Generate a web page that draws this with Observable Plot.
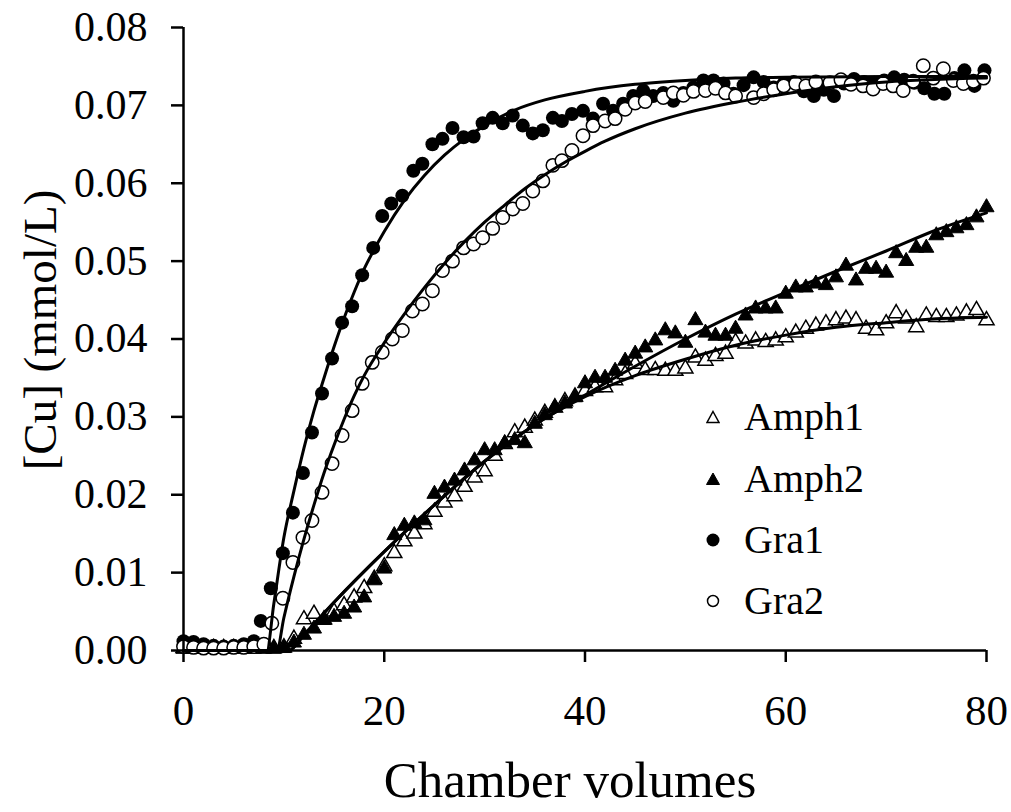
<!DOCTYPE html>
<html><head><meta charset="utf-8">
<script src="https://cdn.jsdelivr.net/npm/d3@7"></script>
<script src="https://cdn.jsdelivr.net/npm/@observablehq/plot@0.6"></script>
<style>
body{margin:0;background:#fff;}
#wrap{position:relative;width:1011px;height:812px;font-family:"Liberation Serif","Times New Roman",serif;color:#000;overflow:hidden;}
.ttl{position:absolute;white-space:nowrap;line-height:1.1;}
.leg{position:absolute;display:flex;align-items:center;font-size:40px;line-height:1;white-space:nowrap;}
</style></head><body><div id="wrap"></div>
<script>
// ---- data ----
const xTicks = [0, 20, 40, 60, 80];
const yTicks = [0, 0.01, 0.02, 0.03, 0.04, 0.05, 0.06, 0.07, 0.08];
const seriesNames = ["Amph1", "Amph2", "Gra1", "Gra2"];

const amph1 = [[0,0.0003],[1,0.0003],[2,0.0003],[3,0.0003],[4,0.0003],[5,0.0003],[6,0.0003],[7,0.0003],[8,0.0003],[9,0.0003],[10,0.0004],[11,0.0015],[12,0.004],[13,0.0047],[14,0.004],[15,0.005],[16,0.0058],[17,0.0068],[18,0.008],[19,0.0092],[20,0.0108],[21,0.0125],[22,0.014],[23,0.015],[24,0.0162],[25,0.0178],[26,0.019],[27,0.0198],[28,0.021],[29,0.0222],[30,0.023],[31,0.025],[32,0.0265],[33,0.028],[34,0.0286],[35,0.0295],[36,0.0305],[37,0.0312],[38,0.032],[39,0.0326],[40,0.0333],[41,0.0338],[42,0.0338],[43,0.0347],[44,0.0355],[45,0.0368],[46,0.036],[47,0.036],[48,0.0359],[49,0.0359],[50,0.0362],[51,0.0376],[52,0.0372],[53,0.0378],[54,0.0381],[55,0.0396],[56,0.0394],[57,0.0398],[58,0.0396],[59,0.0398],[60,0.0402],[61,0.0408],[62,0.0413],[63,0.0417],[64,0.042],[65,0.0424],[66,0.0426],[67,0.0424],[68,0.0413],[69,0.0411],[70,0.042],[71,0.0433],[72,0.0426],[73,0.0415],[74,0.043],[75,0.0428],[76,0.0428],[77,0.043],[78,0.0434],[79,0.0437],[80,0.0424]];

const amph2 = [[0,0.0002],[1,0.0002],[2,0.0002],[3,0.0002],[4,0.0002],[5,0.0002],[6,0.0002],[7,0.0002],[8,0.0002],[9,0.0002],[10,0.0003],[11,0.001],[12,0.002],[13,0.0028],[14,0.0039],[15,0.0043],[16,0.0047],[17,0.0055],[18,0.0068],[19,0.009],[20,0.0105],[21,0.0148],[22,0.016],[23,0.0163],[24,0.0167],[25,0.0201],[26,0.0209],[27,0.0218],[28,0.0231],[29,0.0244],[30,0.0257],[31,0.0257],[32,0.0266],[33,0.027],[34,0.0266],[35,0.0291],[36,0.0302],[37,0.0312],[38,0.0317],[39,0.0325],[40,0.0343],[41,0.035],[42,0.035],[43,0.0359],[44,0.0372],[45,0.0381],[46,0.0389],[47,0.0398],[48,0.0411],[49,0.0407],[50,0.0395],[51,0.0424],[52,0.0408],[53,0.0404],[54,0.0404],[55,0.0413],[56,0.043],[57,0.0439],[58,0.0439],[59,0.0439],[60,0.0458],[61,0.0466],[62,0.0466],[63,0.0471],[64,0.0469],[65,0.0479],[66,0.0494],[67,0.0475],[68,0.049],[69,0.049],[70,0.0485],[71,0.051],[72,0.05],[73,0.0517],[74,0.0517],[75,0.0533],[76,0.0537],[77,0.0542],[78,0.0546],[79,0.0556],[80,0.0569]];

const gra1 = [[0,0.0012],[1,0.0011],[2,0.0008],[3,0.0006],[4,0.0005],[5,0.0006],[6,0.0008],[7,0.0012],[7.7,0.0038],[8.7,0.008],[9.9,0.0125],[10.9,0.0177],[11.9,0.0228],[12.8,0.028],[13.8,0.033],[14.8,0.0375],[15.8,0.0421],[16.8,0.0442],[17.8,0.0482],[18.9,0.0517],[19.8,0.0558],[20.7,0.0574],[21.8,0.0584],[22.9,0.0616],[23.8,0.0625],[24.8,0.065],[25.8,0.0657],[26.8,0.0671],[27.9,0.0659],[28.9,0.066],[29.8,0.0677],[30.8,0.0684],[31.8,0.0677],[32.8,0.0687],[33.8,0.0674],[34.8,0.0664],[35.8,0.0668],[36.8,0.0684],[37.7,0.068],[38.7,0.0689],[39.8,0.0693],[40.8,0.0683],[41.8,0.0702],[42.8,0.0693],[43.8,0.0702],[44.8,0.0712],[45.8,0.0719],[46.8,0.0712],[47.8,0.0716],[48.8,0.0706],[49.8,0.0716],[50.8,0.0723],[51.8,0.0732],[52.8,0.0732],[53.8,0.0728],[54.8,0.0715],[55.8,0.0726],[56.8,0.0736],[57.8,0.073],[58.8,0.0723],[59.8,0.0728],[60.8,0.073],[61.8,0.0718],[62.8,0.0712],[63.8,0.072],[64.8,0.0712],[65.8,0.0728],[66.8,0.0734],[67.8,0.073],[68.8,0.0729],[69.8,0.0732],[70.8,0.0736],[71.8,0.0733],[72.8,0.0729],[73.8,0.0722],[74.8,0.0715],[75.8,0.0715],[76.8,0.0735],[77.8,0.0745],[78.8,0.0725],[79.8,0.0745]];

const gra2 = [[0,0.0005],[1,0.0004],[2,0.0003],[3,0.0003],[4,0.0003],[5,0.0004],[6,0.0004],[7,0.0005],[8,0.0008],[8.8,0.0035],[9.9,0.0067],[10.9,0.0113],[11.9,0.0145],[12.8,0.0167],[13.8,0.0203],[14.8,0.024],[15.8,0.0276],[16.8,0.0308],[17.8,0.0343],[18.8,0.037],[19.8,0.0383],[20.8,0.04],[21.8,0.0411],[22.8,0.0436],[23.8,0.0445],[24.8,0.0462],[25.8,0.0488],[26.8,0.05],[27.9,0.0517],[28.9,0.0522],[29.8,0.053],[30.8,0.0542],[31.8,0.0556],[32.8,0.0567],[33.8,0.0574],[34.8,0.059],[35.8,0.0603],[36.8,0.0623],[37.7,0.0629],[38.7,0.0642],[39.8,0.0661],[40.8,0.0674],[42,0.068],[43,0.0683],[44,0.0695],[45,0.0703],[46,0.0705],[47.8,0.071],[48.8,0.0716],[49.8,0.0713],[50.8,0.0718],[52,0.0719],[53,0.0722],[54,0.0716],[55,0.0712],[56.8,0.071],[57.8,0.0715],[58.8,0.072],[59.8,0.0725],[61,0.0728],[62,0.0725],[63,0.073],[64.4,0.0729],[65.5,0.0733],[66.5,0.0727],[67.7,0.0725],[68.7,0.0721],[69.7,0.0728],[70.7,0.0725],[71.7,0.0719],[72.7,0.0731],[73.7,0.0751],[74.7,0.0735],[75.7,0.0747],[76.7,0.0732],[77.7,0.0728],[78.7,0.0731],[79.7,0.0735]];

// fitted model curves
const fitGra1 = [[0,0],[8.3,0],[9,0.006],[10,0.0145],[11,0.0205],[12,0.026],[13,0.0308],[14,0.035],[15,0.039],[16,0.0427],[17,0.046],[18,0.049],[19,0.0515],[20,0.0538],[22,0.0578],[24,0.061],[26,0.0636],[28,0.0657],[30,0.0674],[33,0.0694],[36,0.0707],[40,0.0718],[45,0.0727],[50,0.0732],[55,0.0735],[60,0.0736],[70,0.0737],[80,0.0737]];
const fitGra2 = [[0,0],[9.3,0],[10,0.0042],[11,0.0095],[12,0.0143],[13,0.0187],[14,0.0228],[15,0.0264],[16,0.0297],[17,0.0327],[18,0.0353],[20,0.0395],[22,0.0432],[24,0.0466],[26,0.0497],[28,0.0525],[30,0.055],[32,0.0572],[34,0.0593],[36,0.0611],[38,0.0627],[40,0.0641],[42,0.0654],[45,0.067],[50,0.069],[55,0.0704],[60,0.0715],[65,0.0724],[70,0.073],[80,0.0735]];
const fitAmph1 = [[0,0],[10.5,0],[12,0.002],[15,0.0062],[20,0.0127],[25,0.0187],[30,0.0243],[35,0.029],[40,0.0326],[45,0.0353],[50,0.0374],[55,0.0392],[60,0.0405],[65,0.0415],[70,0.0421],[75,0.0426],[80,0.0428]];
const fitAmph2 = [[0,0],[10.5,0],[12,0.002],[15,0.0062],[20,0.0127],[25,0.0187],[30,0.0243],[35,0.029],[40,0.0328],[45,0.0365],[50,0.04],[55,0.0432],[60,0.046],[65,0.0487],[70,0.0513],[75,0.054],[80,0.0562]];

// ---- chart ----
const X = d => d[0], Y = d => d[1];
const FONT = '"Liberation Serif","Times New Roman",serif';
const lineOpts = {x: X, y: Y, stroke: "#000", strokeWidth: 3, curve: "monotone-x"};

const chart = Plot.plot({
  width: 1011, height: 812,
  marginLeft: 183, marginRight: 25, marginTop: 27, marginBottom: 162,
  style: {fontFamily: FONT, fontSize: "42px", color: "#000", background: "#fff", overflow: "visible"},
  x: {domain: [0, 80]},
  y: {domain: [0, 0.08]},
  marks: [
    Plot.dot(amph1, {x: X, y: Y, symbol: "triangle", r: 5.6, fill: "#fff", stroke: "#000", strokeWidth: 1.5}),
    Plot.dot(amph2, {x: X, y: Y, symbol: "triangle", r: 5.6, fill: "#000", stroke: "#000", strokeWidth: 1}),
    Plot.dot(gra1, {x: X, y: Y, r: 7, fill: "#000", stroke: "none"}),
    Plot.dot(gra2, {x: X, y: Y, r: 6.7, fill: "#fff", stroke: "#000", strokeWidth: 1.5}),
    Plot.line(fitAmph1, lineOpts),
    Plot.line(fitAmph2, lineOpts),
    Plot.line(fitGra1, lineOpts),
    Plot.line(fitGra2, lineOpts),
    Plot.ruleX([0], {y1: 0, y2: 0.08, stroke: "#000", strokeWidth: 2.5}),
    Plot.ruleY([0], {x1: 0, x2: 80, stroke: "#000", strokeWidth: 2.5}),
    Plot.axisY({ticks: yTicks, tickSize: 12, tickPadding: 24, tickFormat: d3.format(".2f"), label: null, strokeWidth: 2.5, fontSize: 42}),
    Plot.axisX({ticks: xTicks, tickSize: 12, tickPadding: 32, tickFormat: d3.format("d"), label: null, strokeWidth: 2.5, fontSize: 43})
  ]
});

const wrap = document.getElementById("wrap");
wrap.appendChild(chart);

// axis titles
const xt = document.createElement("div");
xt.className = "ttl"; xt.textContent = "Chamber volumes";
xt.style.cssText += "font-size:51px;left:570px;top:780px;transform:translate(-50%,-50%);";
wrap.appendChild(xt);
const yt = document.createElement("div");
yt.className = "ttl"; yt.textContent = "[Cu] (mmol/L)";
yt.style.cssText += "font-size:47px;left:41px;top:330px;transform:translate(-50%,-50%) rotate(-90deg);";
wrap.appendChild(yt);

// legend
const legendMarks = {
  Amph1: '<path d="M7,1.5 L13,12.5 L1,12.5 Z" fill="#fff" stroke="#000" stroke-width="1.5"/>',
  Amph2: '<path d="M7,1 L13.5,12.5 L0.5,12.5 Z" fill="#000" stroke="#000" stroke-width="1"/>',
  Gra1: '<circle cx="7" cy="7" r="6.5" fill="#000"/>',
  Gra2: '<circle cx="7" cy="7" r="5.5" fill="#fff" stroke="#000" stroke-width="1.5"/>'
};
const legendTop = [417, 479, 540, 601];
seriesNames.forEach((name, i) => {
  const row = document.createElement("div");
  row.className = "leg";
  row.style.left = "706px";
  row.style.top = legendTop[i] + "px";
  row.style.transform = "translateY(-50%)";
  row.innerHTML = '<svg width="14" height="14" viewBox="0 0 14 14">' + legendMarks[name] + '</svg><span style="margin-left:24px">' + name + '</span>';
  wrap.appendChild(row);
});
</script>
</body></html>
